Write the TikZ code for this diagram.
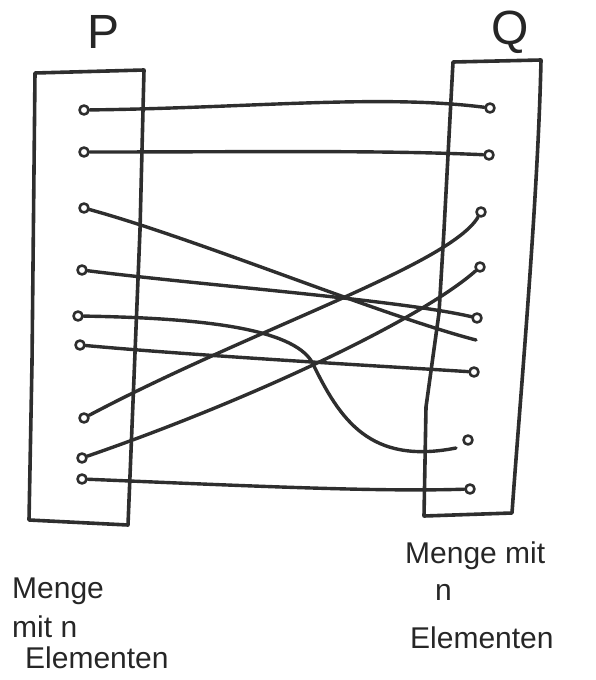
\documentclass[tikz,border=0pt]{standalone}
\usepackage{fontspec}
\setmainfont{Liberation Sans}
\begin{document}
\begin{tikzpicture}[x=1pt,y=-1pt,line cap=round,line join=round,
  ink/.style={draw=black!82},
  dot/.style={circle,ink,line width=2.6pt,minimum size=9pt,inner sep=0pt},
  wire/.style={ink,line width=3.4pt},
  frame/.style={ink,line width=3.6pt},
  lbl/.style={font=\fontsize{30}{34}\selectfont,text=black!85,anchor=base west,inner sep=0pt},
  setname/.style={font=\fontsize{48}{52}\selectfont,text=black!85,inner sep=0pt}]
\useasboundingbox (0,0) rectangle (596,680);
% sets
\draw[frame] (35,73) -- (144,70) -- (140,230) -- (128,525) -- (29,520) -- (32,363) -- cycle;
\draw[frame] (453,62) -- (541,60) .. controls (538,200) and (520,400) .. (512,513) -- (424,516) -- (426,407) -- (439,313) -- (444,230) -- cycle;
\node[setname] (P) at (104,32) {P};
\node[setname] (Q) at (510,32) {Q};
% elements of P
\node[dot] (l1) at (84,110) {};
\node[dot] (l2) at (84,152) {};
\node[dot] (l3) at (84,208) {};
\node[dot] (l4) at (82,270) {};
\node[dot] (l5) at (78,316) {};
\node[dot] (l6) at (80,345) {};
\node[dot] (l7) at (84,418) {};
\node[dot] (l8) at (82,458) {};
\node[dot] (l9) at (82,479) {};
% elements of Q
\node[dot] (r1) at (490,108) {};
\node[dot] (r2) at (489,155) {};
\node[dot] (r3) at (481,212) {};
\node[dot] (r4) at (480,267) {};
\node[dot] (r5) at (477,318) {};
\node[dot] (r6) at (474,372) {};
\node[dot] (r7) at (468,440) {};
\node[dot] (r8) at (470,489) {};
\coordinate (e3) at (476,340);
\coordinate (e5) at (456,448);
% mapping
\draw[wire] (l1) .. controls (250,108) and (380,94) .. (r1);
\draw[wire] (l2) .. controls (250,152) and (380,150) .. (r2);
\draw[wire] (l3) .. controls (200,240) and (380,315) .. (e3);
\draw[wire] (l4) .. controls (200,285) and (400,300) .. (r5);
\draw[wire] (l5) .. controls (200,318) and (292,328) .. (312,362) .. controls (340,420) and (370,465) .. (e5);
\draw[wire] (l6) .. controls (200,356) and (380,366) .. (r6);
\draw[wire] (l7) .. controls (250,330) and (450,265) .. (r3);
\draw[wire] (l8) .. controls (250,400) and (420,320) .. (r4);
\draw[wire] (l9) .. controls (250,486) and (380,492) .. (r8);
% captions
\node[lbl] (a1) at (12,598) {Menge};
\node[lbl] (a2) at (12,637) {mit n};
\node[lbl] (a3) at (25,668) {Elementen};
\node[lbl] (b1) at (405,563) {Menge mit};
\node[lbl] (b2) at (435,600) {n};
\node[lbl] (b3) at (410,648) {Elementen};
\end{tikzpicture}
\end{document}
